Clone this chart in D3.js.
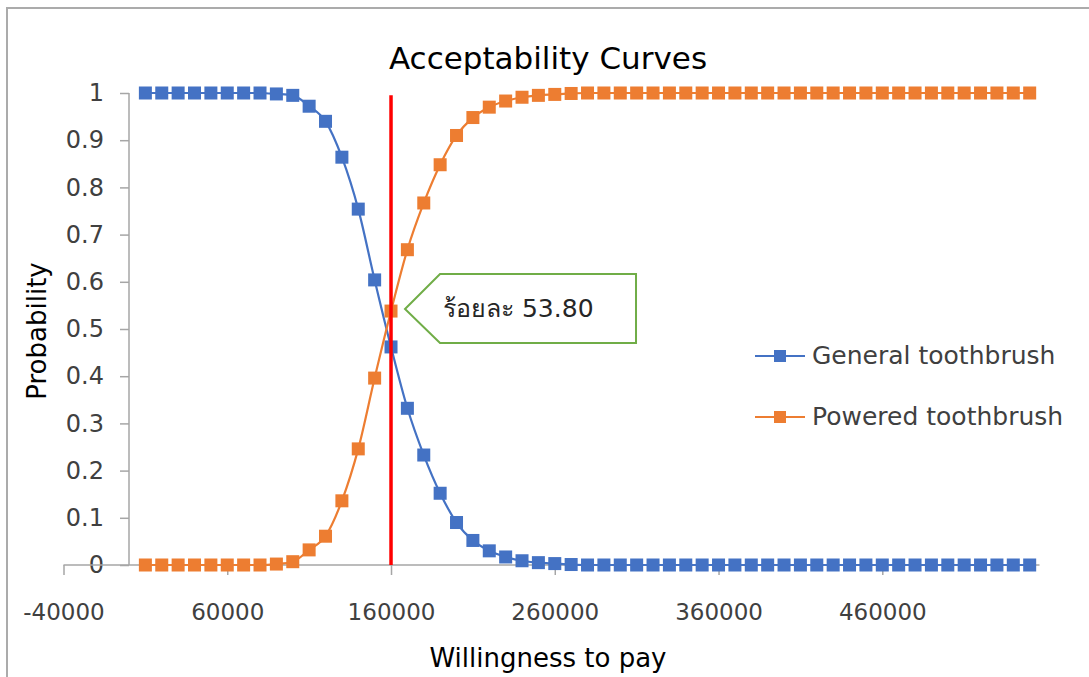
<!DOCTYPE html>
<html>
<head>
<meta charset="utf-8">
<script src="https://cdn.jsdelivr.net/npm/d3@7"></script>
<style>
  body { margin: 0; background: #fff; }
  svg { display: block; font-family: "DejaVu Sans", "Noto Sans", sans-serif; }
</style>
</head>
<body>
<div id="chart"></div>
<script>
// willingness to pay (x values)
const wtp = [10000, 20000, 30000, 40000, 50000, 60000, 70000, 80000, 90000, 100000,
  110000, 120000, 130000, 140000, 150000, 160000, 170000, 180000, 190000, 200000,
  210000, 220000, 230000, 240000, 250000, 260000, 270000, 280000, 290000, 300000,
  310000, 320000, 330000, 340000, 350000, 360000, 370000, 380000, 390000, 400000,
  410000, 420000, 430000, 440000, 450000, 460000, 470000, 480000, 490000, 500000,
  510000, 520000, 530000, 540000, 550000];

const general = [1, 1, 1, 1, 1, 1, 1, 1, 0.998, 0.995,
  0.972, 0.940, 0.864, 0.754, 0.604, 0.462, 0.332, 0.233, 0.152, 0.090,
  0.052, 0.030, 0.017, 0.009, 0.005, 0.003, 0.001, 0, 0, 0,
  0, 0, 0, 0, 0, 0, 0, 0, 0, 0,
  0, 0, 0, 0, 0, 0, 0, 0, 0, 0,
  0, 0, 0, 0, 0];

const powered = [0, 0, 0, 0, 0, 0, 0, 0, 0.002, 0.007,
  0.032, 0.061, 0.136, 0.246, 0.396, 0.538, 0.668, 0.767, 0.848, 0.910,
  0.948, 0.970, 0.983, 0.991, 0.995, 0.997, 0.999, 1, 1, 1,
  1, 1, 1, 1, 1, 1, 1, 1, 1, 1,
  1, 1, 1, 1, 1, 1, 1, 1, 1, 1,
  1, 1, 1, 1, 1];

const seriesNames = ["General toothbrush", "Powered toothbrush"];
const seriesColors = ["#4472C4", "#ED7D31"];
const xTicks = [-40000, 60000, 160000, 260000, 360000, 460000];
const yTicks = [0, 0.1, 0.2, 0.3, 0.4, 0.5, 0.6, 0.7, 0.8, 0.9, 1];
const cutoff = 160000;

const W = 1089, H = 677;

let x = d3.scaleLinear().domain([-40000, 556000]).range([63.5, 1039.5]);
let y = d3.scaleLinear().domain([0, 1]).range([565, 93]);

const svg = d3.select("#chart").append("svg")
    .attr("width", W)
    .attr("height", H);

// outer chart border
svg.append("rect")
    .attr("x", 7).attr("y", 8)
    .attr("width", 1100).attr("height", 700)
    .attr("fill", "none")
    .attr("stroke", "#ABABAB")
    .attr("stroke-width", 2);

svg.append("text")
    .attr("x", 548).attr("y", 69)
    .attr("text-anchor", "middle")
    .style("font-size", "31px")
    .style("fill", "#000")
    .text("Acceptability Curves");

const axisColor = "#A6A6A6";

// y axis at x = 0
const yAxis = svg.append("g")
    .attr("transform", `translate(${x(0)},0)`)
    .call(d3.axisLeft(y).tickValues(yTicks).tickSize(9).tickPadding(16)
        .tickFormat(d => String(d)));
yAxis.select(".domain").attr("stroke", axisColor).attr("stroke-width", 1.5)
    .attr("d", `M0,${y(1)}V${y(0)}`);
yAxis.selectAll(".tick line").attr("stroke", axisColor).attr("stroke-width", 1.5);
yAxis.selectAll(".tick text").style("font-size", "24px").style("fill", "#404040")
    .style("font-family", "DejaVu Sans, sans-serif");

// x axis at y = 0
const xAxis = svg.append("g")
    .attr("transform", `translate(0,${y(0)})`)
    .call(d3.axisBottom(x).tickValues(xTicks).tickSize(10).tickPadding(29)
        .tickFormat(d => String(d)));
xAxis.select(".domain").attr("stroke", axisColor).attr("stroke-width", 1.5)
    .attr("d", `M${x.range()[0]},0H${x.range()[1]}`);
xAxis.selectAll(".tick line").attr("stroke", axisColor).attr("stroke-width", 1.5);
xAxis.selectAll(".tick text").style("font-size", "23px").style("fill", "#404040")
    .style("font-family", "DejaVu Sans, sans-serif");

svg.append("text")
    .attr("x", 548).attr("y", 667)
    .attr("text-anchor", "middle")
    .style("font-size", "26px")
    .text("Willingness to pay");

svg.append("text")
    .attr("transform", "translate(46,331) rotate(-90)")
    .attr("text-anchor", "middle")
    .style("font-size", "26px")
    .text("Probability");

const line = d3.line()
    .x(d => x(d[0]))
    .y(d => y(d[1]))
    .curve(d3.curveMonotoneX);

const ms = 13;
[general, powered].forEach((vals, i) => {
    const pts = wtp.map((w, j) => [w, vals[j]]);
    svg.append("path")
        .datum(pts)
        .attr("d", line)
        .attr("fill", "none")
        .attr("stroke", seriesColors[i])
        .attr("stroke-width", 2.2);
    svg.append("g")
        .selectAll("rect")
        .data(pts)
        .join("rect")
        .attr("x", d => x(d[0]) - ms / 2)
        .attr("y", d => y(d[1]) - ms / 2)
        .attr("width", ms).attr("height", ms)
        .attr("fill", seriesColors[i]);
});

// cutoff line
svg.append("line")
    .attr("x1", x(cutoff)).attr("x2", x(cutoff))
    .attr("y1", y(0.995)).attr("y2", y(0))
    .attr("stroke", "#FF0000")
    .attr("stroke-width", 3.5);

// callout
const cv = powered[wtp.indexOf(cutoff)];
const tipX = x(cutoff) + 14, tipY = y(cv) - 2;
svg.append("path")
    .attr("d", `M${tipX},${tipY}L${tipX + 35},${tipY - 35}H${tipX + 231}V${tipY + 34}H${tipX + 35}Z`)
    .attr("fill", "#fff")
    .attr("stroke", "#70AD47")
    .attr("stroke-width", 2);
svg.append("text")
    .attr("x", tipX + 38).attr("y", tipY + 1)
    .attr("dominant-baseline", "middle")
    .style("font-size", "25px")
    .style("fill", "#262626")
    .text("ร้อยละ " + (cv * 100).toFixed(2));

// legend
const legend = svg.append("g")
    .selectAll("g")
    .data(seriesNames)
    .join("g")
    .attr("transform", (d, i) => `translate(755,${356 + i * 61})`);
legend.append("line")
    .attr("x1", 0).attr("x2", 50)
    .attr("stroke", (d, i) => seriesColors[i])
    .attr("stroke-width", 2.2);
legend.append("rect")
    .attr("x", 25 - 6).attr("y", -6)
    .attr("width", 12).attr("height", 12)
    .attr("fill", (d, i) => seriesColors[i]);
legend.append("text")
    .attr("x", 57).attr("y", 1)
    .attr("dominant-baseline", "middle")
    .style("font-size", "25px")
    .style("fill", "#404040")
    .text(d => d);
</script>
</body>
</html>
